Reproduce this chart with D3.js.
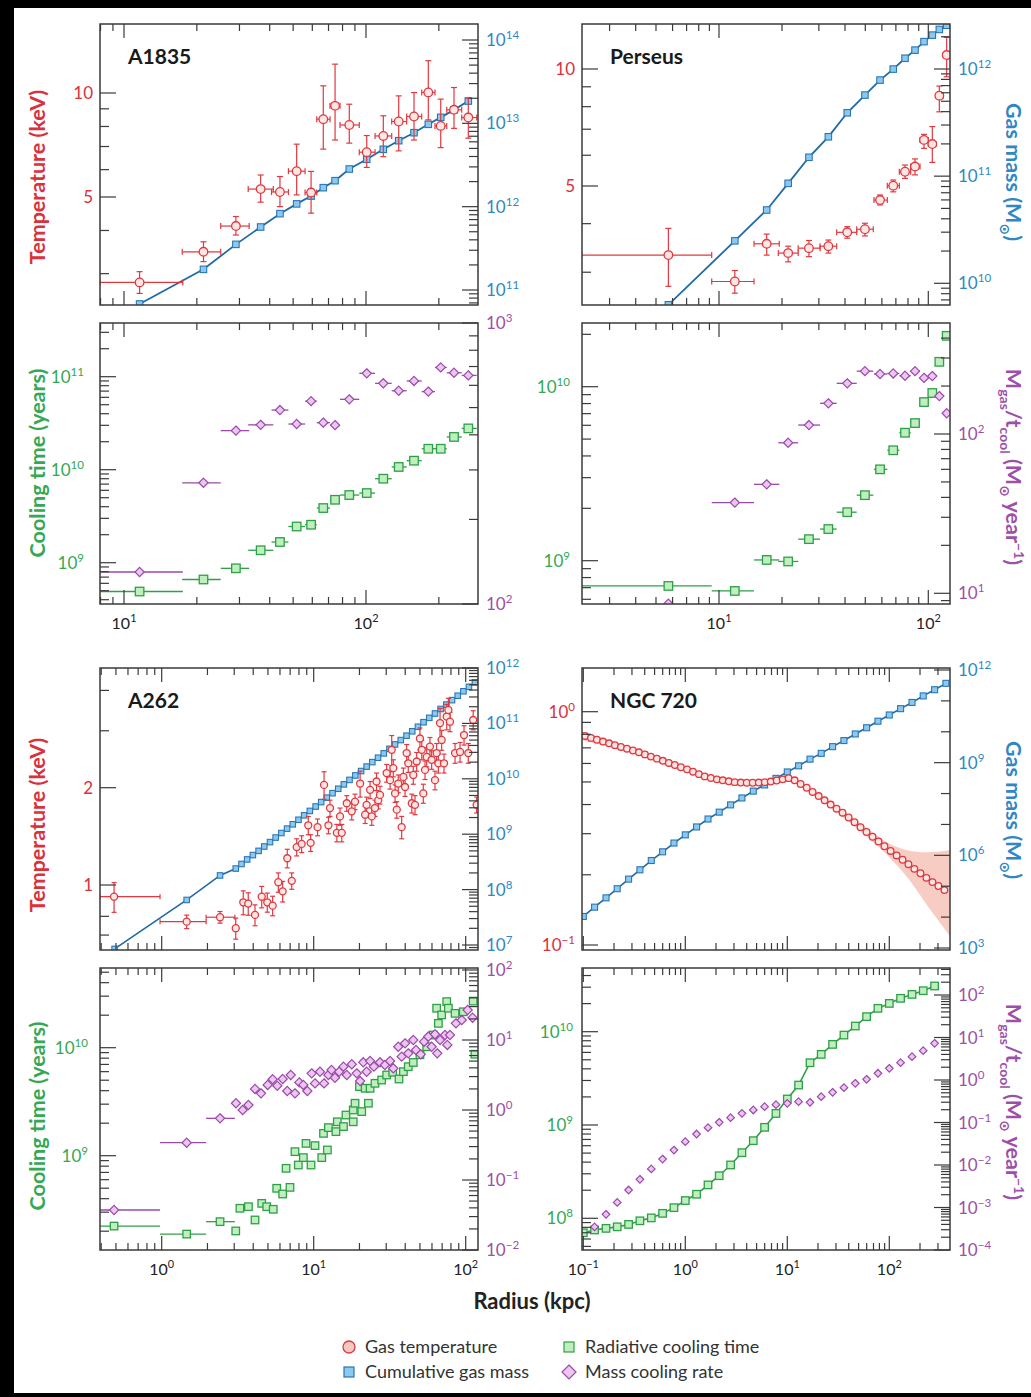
<!DOCTYPE html>
<html><head><meta charset="utf-8">
<script src="https://cdnjs.cloudflare.com/ajax/libs/d3/7.8.5/d3.min.js"></script>
<style>html,body{margin:0;padding:0;background:#000}svg{display:block}</style>
</head><body>
<svg id="chart" width="1031" height="1397"></svg>
<script>
// ================= DATA =================
// ---- A1835 ----
const a1835_r    = [11.6, 21.3, 29.0, 36.7, 44.1, 51.7, 59.3, 66.6, 74.5, 85.3, 100.7, 117.9, 136.5, 157.9, 180.9, 203.6, 231.0, 264.7];
const a1835_rLo  = [7.96, 17.4, 25.1, 32.6, 40.7, 47.8, 56.0, 62.6, 71.0, 78.1, 93.8, 109, 127.7, 147.3, 169.9, 192.8, 215.6, 248.6];
const a1835_rHi  = [17.5, 25.1, 32.9, 41.4, 47.8, 56.0, 62.6, 71.0, 78.1, 93.8, 109, 127.7, 147.3, 169.9, 192.8, 215.6, 248.6, 286.7];
const a1835_T    = [2.83, 3.47, 4.12, 5.27, 5.17, 5.94, 5.15, 8.40, 9.18, 8.08, 6.74, 7.51, 8.27, 8.55, 10.04, 8.03, 8.94, 8.49];
const a1835_TLo  = [2.63, 3.25, 3.88, 4.83, 4.69, 5.07, 4.49, 6.88, 7.31, 7.16, 6.09, 6.54, 6.80, 7.31, 8.36, 6.95, 7.90, 7.40];
const a1835_THi  = [3.04, 3.71, 4.39, 5.79, 5.73, 7.11, 5.93, 10.49, 12.12, 9.28, 7.53, 8.59, 9.81, 10.03, 12.40, 9.60, 10.37, 9.66];
const a1835_mass = [6.8e10, 1.77e11, 3.53e11, 5.70e11, 8.24e11, 1.08e12, 1.34e12, 1.69e12, 2.05e12, 2.83e12, 3.70e12, 4.88e12, 6.19e12, 7.72e12, 9.73e12, 1.18e13, 1.45e13, 1.85e13];
const a1835_tcool= [4.9e8, 6.6e8, 8.7e8, 1.36e9, 1.67e9, 2.45e9, 2.56e9, 3.87e9, 4.75e9, 5.34e9, 5.61e9, 8.0e9, 1.07e10, 1.25e10, 1.68e10, 1.68e10, 2.25e10, 2.78e10];
const a1835_mdot = [130, 270, 414, 434, 490, 437, 527, 442, 433, 535, 662, 610, 574, 622, 570, 695, 665, 651];

// ---- Perseus ----
const per_r    = [5.73, 11.9, 16.9, 21.4, 26.9, 33.3, 41.0, 49.8, 58.8, 68.0, 77.4, 86.4, 95.4, 104.5, 112.9, 122.4];
const per_rLo  = [2.21, 9.23, 14.7, 19.2, 23.9, 30.4, 36.5, 45.5, 55.0, 63.7, 72.7, 82.4, 91.3, 100, 108.8, 117.9];
const per_rHi  = [9.23, 14.7, 19.4, 23.9, 30.4, 36.5, 45.5, 54.6, 63.7, 72.7, 82.4, 91.3, 100, 108.8, 117.9, 127];
const per_T    = [3.32, 2.84, 3.55, 3.36, 3.46, 3.50, 3.80, 3.87, 4.60, 5.01, 5.44, 5.61, 6.57, 6.41, 8.54, 10.86];
const per_TLo  = [2.76, 2.65, 3.32, 3.19, 3.29, 3.36, 3.67, 3.72, 4.47, 4.83, 5.23, 5.34, 6.25, 5.75, 7.76, 9.55];
const per_THi  = [3.89, 3.03, 3.76, 3.50, 3.62, 3.63, 3.93, 4.01, 4.74, 5.18, 5.66, 5.87, 6.79, 7.11, 9.04, 12.06];
const per_mass = [6.3e9, 2.49e10, 4.83e10, 8.57e10, 1.50e11, 2.33e11, 3.90e11, 5.71e11, 7.88e11, 9.98e11, 1.26e12, 1.50e12, 1.80e12, 2.07e12, 2.34e12, 2.56e12];
const per_tcool= [7.16e8, 6.7e8, 1.01e9, 9.9e8, 1.33e9, 1.52e9, 1.90e9, 2.38e9, 3.35e9, 4.31e9, 5.44e9, 6.18e9, 8.16e9, 9.2e9, 1.39e10, 1.96e10];
const per_mdot = [8.6, 37.1, 48.3, 88.1, 113.8, 155.8, 208, 248, 238, 240, 232, 248, 225, 231, 173, 135];

// ---- A262 ----
const a262_r   = [0.486,1.46,2.42,3.07,3.44,3.71,4.11,4.55,4.95,5.37,5.85,6.25,6.70,7.17,7.73,8.33,9.21,9.55,10.6,11.7,12.5,12.8,14.2,14.9,15.3,16.5,17.8,18.7,20.2,21.8,22.3,23.5,24.1,25.3,25.9,26.6,27.3,30.2,31.8,32.6,33.4,34.3,35.2,36.0,37.9,38.9,39.9,40.9,41.9,44.2,45.2,46.4,47.6,50.0,51.4,52.6,54.0,55.4,58.2,59.7,62.8,64.4,66.1,67.8,69.5,72.0,75.0,76.9,78.8,85.1,91.8,97.5,104,112,118];
const a262_T   = [0.92,0.77,0.795,0.735,0.884,0.876,0.808,0.920,0.884,0.863,1.02,0.956,1.21,1.03,1.31,1.34,1.53,1.35,1.51,2.04,1.53,1.73,1.45,1.63,1.45,1.79,1.69,1.81,2.06,1.65,1.77,1.97,1.63,1.73,2.09,1.83,1.90,2.22,2.11,2.62,2.30,1.92,1.71,2.06,1.51,2.16,2.01,2.56,2.38,1.79,2.19,1.77,2.41,2.84,2.62,1.92,2.27,2.49,2.68,2.44,2.11,2.56,2.38,3.17,2.81,2.38,3.32,3.48,3.20,2.56,2.58,2.91,2.56,3.24,1.77];
const a262_TErr= [0.097,0.037,0.033,0.055,0.075,0.07,0.06,0.07,0.06,0.06,0.07,0.07,0.08,0.06,0.08,0.08,0.1,0.08,0.09,0.2,0.09,0.1,0.09,0.1,0.09,0.1,0.1,0.1,0.19,0.1,0.1,0.12,0.1,0.1,0.13,0.11,0.12,0.14,0.13,0.28,0.14,0.12,0.1,0.13,0.12,0.14,0.13,0.16,0.15,0.12,0.14,0.12,0.16,0.22,0.18,0.13,0.15,0.17,0.18,0.16,0.14,0.18,0.16,0.35,0.2,0.16,0.3,0.3,0.22,0.18,0.18,0.2,0.18,0.22,0.1];
const a262_binLo = [0.393, 0.975, 1.96];
const a262_binHi = [0.975, 1.96, 3.03];
const a262_massR = [0.49,1.46,2.42,3.07,3.35,3.65,3.98,4.34,4.73,5.16,5.62,6.13,6.68,7.28,7.94,8.65,9.43,10.3,11.2,12.2,13.3,14.5,15.8,17.2,18.8,20.5,22.3,24.3,26.5,28.9,31.5,34.3,37.4,40.8,44.5,48.5,52.8,57.6,62.8,68.4,74.6,81.3,88.6,96.6,105,115];
const a262_mass  = [8.5e6,6.5e7,1.8e8,2.4e8,2.9e8,3.5e8,4.2e8,5.0e8,6.0e8,7.2e8,8.7e8,1.05e9,1.26e9,1.51e9,1.82e9,2.19e9,2.63e9,3.16e9,3.80e9,4.57e9,5.50e9,6.61e9,7.94e9,9.55e9,1.15e10,1.38e10,1.66e10,2.0e10,2.4e10,2.88e10,3.47e10,4.17e10,5.0e10,6.0e10,7.2e10,8.7e10,1.05e11,1.26e11,1.51e11,1.82e11,2.19e11,2.63e11,3.16e11,3.80e11,4.57e11,5.50e11];
const a262_tcR = [0.486,1.46,2.42,3.07,3.27,3.72,4.11,4.55,4.91,5.42,5.71,6.25,6.58,6.98,7.53,7.92,8.55,8.9,9.6,10.2,11.3,11.6,12.3,12.5,14.0,14.3,15.7,16.3,18.2,18.2,18.7,20.0,20.7,21.8,22.9,23.5,25.3,28.0,30.2,33.1,36.4,38.9,41.9,45.2,50.0,55.4,61.2,64.4,66.1,69.5,75.0,76.9,85.1,96.4,112,115];
const a262_tc  = [2.23e8,1.88e8,2.45e8,2.01e8,3.26e8,3.37e8,2.54e8,3.62e8,3.37e8,3.19e8,4.99e8,4.42e8,7.64e8,5.09e8,1.09e9,8.2e8,9.6e8,1.30e9,8.2e8,1.24e9,9.6e8,1.61e9,1.13e9,1.82e9,1.67e9,2.06e9,1.86e9,2.38e9,2.06e9,2.65e9,3.06e9,4.36e9,2.56e9,4.21e9,3.06e9,4.21e9,4.68e9,5.02e9,5.59e9,5.92e9,5.13e9,6.0e9,6.67e9,7.3e9,8.6e9,1.02e10,1.31e10,2.32e10,1.68e10,2.01e10,2.67e10,2.32e10,2.08e10,2.15e10,2.70e10,8.7e9];
const a262_mdR = [0.486,1.46,2.42,3.08,3.41,3.72,4.11,4.50,4.98,5.37,5.76,6.25,6.70,7.06,7.53,8.04,8.55,9.08,9.7,10.2,11.0,11.7,12.5,13.1,13.8,14.7,15.7,16.5,17.8,19.2,20.2,21.2,22.3,23.5,24.9,27.3,29.4,31.8,33.4,36.0,37.9,39.9,41.9,45.2,47.1,50.6,53.2,56.8,59.7,62.8,65.0,67.8,73.1,75.7,78.8,86.3,94.2,103,111];
const a262_md  = [0.0373,0.341,0.76,1.25,1.0,1.18,2.0,1.73,2.28,2.75,2.22,2.77,1.87,3.16,1.73,2.48,2.28,1.87,3.34,2.40,3.52,2.40,3.16,3.73,2.89,3.52,4.16,3.16,4.5,3.34,2.59,4.80,3.52,5.01,4.16,4.80,4.39,5.01,3.94,8.0,5.78,8.96,6.45,10,7.2,6.24,9.46,11.2,8.0,12.1,6.45,10,11.8,8.5,11.8,17.3,19.3,26.8,20.8];

// ---- NGC 720 ----
const ngc_TR = [0.104,0.119,0.136,0.156,0.179,0.204,0.234,0.268,0.307,0.351,0.402,0.460,0.527,0.603,0.690,0.790,0.905,1.04,1.19,1.36,1.55,1.78,2.04,2.33,2.67,3.05,3.50,4.00,4.58,5.25,6.01,6.88,7.87,9.01,10.3,11.8,13.5,15.5,17.7,20.3,23.2,26.6,30.4,34.8,39.9,45.6,52.2,59.8,68.5,78.4,89.7,103,118,135,154,176,202,231,265,303,347];
const ngc_T  = [0.787,0.772,0.758,0.745,0.732,0.719,0.706,0.694,0.682,0.670,0.656,0.642,0.629,0.616,0.603,0.591,0.578,0.566,0.553,0.540,0.528,0.520,0.513,0.508,0.503,0.499,0.497,0.496,0.496,0.497,0.499,0.502,0.507,0.513,0.519,0.508,0.490,0.472,0.453,0.435,0.417,0.400,0.384,0.369,0.352,0.336,0.320,0.305,0.291,0.278,0.265,0.253,0.242,0.232,0.222,0.212,0.203,0.194,0.186,0.179,0.172];
const ngc_bandR  = [0.097, 0.3, 1, 3, 6, 10, 15, 30, 60, 100, 150, 230, 394];
const ngc_bandLo = [0.755, 0.665, 0.555, 0.488, 0.488, 0.508, 0.466, 0.374, 0.292, 0.238, 0.195, 0.15, 0.109];
const ngc_bandHi = [0.82, 0.70, 0.58, 0.51, 0.51, 0.532, 0.482, 0.394, 0.318, 0.272, 0.255, 0.25, 0.255];
const ngc_mR = [0.1,0.129,0.167,0.215,0.278,0.359,0.464,0.599,0.774,1.0,1.29,1.67,2.15,2.78,3.59,4.64,5.99,7.74,10.0,12.9,16.7,21.5,27.8,35.9,46.4,59.9,77.4,100,129,167,215,278,359];
const ngc_m  = [1.05e4,2.1e4,4.2e4,8.3e4,1.7e5,3.4e5,6.8e5,1.3e6,2.5e6,4.6e6,8.3e6,1.5e7,2.5e7,4.3e7,7.2e7,1.2e8,1.9e8,3.1e8,5.0e8,7.9e8,1.3e9,2.0e9,3.3e9,5.2e9,8.5e9,1.35e10,2.2e10,3.5e10,5.6e10,8.9e10,1.45e11,2.3e11,3.7e11];
const ngc_tcR = [0.1,0.129,0.167,0.215,0.278,0.359,0.464,0.599,0.774,1.0,1.29,1.67,2.15,2.78,3.59,4.64,5.99,7.74,10.0,12.9,16.7,21.5,27.8,35.9,46.4,59.9,77.4,100,129,167,215,278];
const ngc_tc  = [7.0e7,7.5e7,7.8e7,8.1e7,8.6e7,9.4e7,1.01e8,1.13e8,1.30e8,1.55e8,1.81e8,2.28e8,2.86e8,3.73e8,5.05e8,6.79e8,9.44e8,1.33e9,1.90e9,2.68e9,4.65e9,5.71e9,7.31e9,9.2e9,1.15e10,1.45e10,1.78e10,2.01e10,2.28e10,2.51e10,2.75e10,3.09e10];
const ngc_mdR = [0.129,0.167,0.215,0.278,0.359,0.464,0.599,0.774,1.0,1.29,1.67,2.15,2.78,3.59,4.64,5.99,7.74,10.0,12.9,16.7,21.5,27.8,35.9,46.4,59.9,77.4,100,129,167,215,278];
const ngc_md  = [3.5e-4,6.9e-4,1.32e-3,2.58e-3,4.6e-3,8.1e-3,1.38e-2,2.25e-2,3.54e-2,5.36e-2,7.55e-2,0.101,0.130,0.164,0.197,0.236,0.263,0.282,0.309,0.299,0.406,0.513,0.661,0.836,1.04,1.44,1.88,2.56,3.54,4.90,7.29];

const panelNames   = ['A1835', 'Perseus', 'A262', 'NGC 720'];
const legendLabels = ['Gas temperature', 'Cumulative gas mass', 'Radiative cooling time', 'Mass cooling rate'];

// ================= DRAWING =================
const FONT = "Lato, 'Open Sans', 'DejaVu Sans', sans-serif";
const C = {
  red:'#e0383f', redFill:'#fde6e4', redText:'#d8323b', redBand:'#f6c3b8',
  blue:'#1f6aa5', blueFill:'#8cc9ef', blueStroke:'#2a76b3', blueText:'#2f87c4',
  green:'#2f9f48', greenFill:'#bfeebf', greenText:'#34a853',
  purple:'#9a4aa8', purpleFill:'#ecc6f1', purpleText:'#9c50a7',
  frame:'#3a3a3a'
};
const svg = d3.select('#chart');
const defs = svg.append('defs');
svg.append('rect').attr('width',1031).attr('height',1397).attr('fill','#000');
svg.append('rect').attr('x',14).attr('y',8).attr('width',1017).attr('height',1385).attr('fill','#fff');

function logScale(v1,p1,v2,p2,pa,pb){
  const s = d3.scaleLog().domain([v1,v2]).range([p1,p2]);
  return d3.scaleLog().domain([s.invert(pa), s.invert(pb)]).range([pa,pb]);
}
function logTicks(s){
  const d = s.domain(); const lo = Math.min(d[0],d[1]), hi = Math.max(d[0],d[1]);
  const out = [];
  for(let e=Math.floor(Math.log10(lo))-1; e<=Math.ceil(Math.log10(hi)); e++)
    for(let k=1;k<=9;k++){ const v = k*Math.pow(10,e); if(v>=lo*0.9999 && v<=hi*1.0001) out.push(v); }
  return out;
}
function isDecade(v){ const l=Math.log10(v); return Math.abs(l-Math.round(l))<1e-6; }
function seg(g,x1,y1,x2,y2,color,w){
  g.append('line').attr('x1',x1).attr('y1',y1).attr('x2',x2).attr('y2',y2).attr('stroke',color).attr('stroke-width',w||1.2);
}
function addLabel(g,x,y,anchor,base,exp,color,size){
  const fs = size||17;
  const t = g.append('text').attr('x',x).attr('y',y).attr('text-anchor',anchor).attr('fill',color)
    .attr('font-size',fs).attr('font-family',FONT);
  t.append('tspan').text(base);
  if(exp!=null) t.append('tspan').attr('dy',-7).attr('font-size',fs*0.68).text(exp);
}
function circleM(g,x,y,r){ g.append('circle').attr('cx',x).attr('cy',y).attr('r',r).attr('fill',C.redFill).attr('stroke',C.red).attr('stroke-width',1.3); }
function squareM(g,x,y,s,fill,stroke,sw){ g.append('rect').attr('x',x-s/2).attr('y',y-s/2).attr('width',s).attr('height',s).attr('fill',fill).attr('stroke',stroke).attr('stroke-width',sw||1.2); }
function diamondM(g,x,y,s){ g.append('path').attr('d',`M${x},${y-s}L${x+s},${y}L${x},${y+s}L${x-s},${y}Z`).attr('fill',C.purpleFill).attr('stroke',C.purple).attr('stroke-width',1.2); }

function massLine(g,xs,ys,R,M,s,lw){
  g.append('path').attr('d', d3.line()(R.map((r,i)=>[xs(r), ys(M[i])])))
    .attr('fill','none').attr('stroke',C.blue).attr('stroke-width',lw||1.8);
  R.forEach((r,i)=>squareM(g,xs(r),ys(M[i]),s,C.blueFill,C.blueStroke,1.1));
}
function tempPts(g,xs,ys,R,T,TLo,THi,RLo,RHi,rad,cap){
  const c = cap||3;
  R.forEach((r,i)=>{
    const x=xs(r), y=ys(T[i]);
    if(TLo && TLo[i]!=null){
      const a=ys(TLo[i]), b=ys(THi[i]);
      seg(g,x,a,x,b,C.red,1.2); seg(g,x-c,a,x+c,a,C.red,1.2); seg(g,x-c,b,x+c,b,C.red,1.2);
    }
    if(RLo && RLo[i]!=null){
      const a=xs(RLo[i]), b=xs(RHi[i]);
      seg(g,a,y,b,y,C.red,1.2); seg(g,a,y-c,a,y+c,C.red,1.2); seg(g,b,y-c,b,y+c,C.red,1.2);
    }
  });
  R.forEach((r,i)=>circleM(g,xs(r),ys(T[i]),rad));
}
function coolPts(g,xs,ys,R,V,RLo,RHi,kind,s){
  const col = kind==='sq'? C.green : C.purple;
  if(RLo) R.forEach((r,i)=>{ if(RLo[i]!=null) seg(g,xs(RLo[i]),ys(V[i]),xs(RHi[i]),ys(V[i]),col,1.3); });
  R.forEach((r,i)=>{
    if(kind==='sq') squareM(g,xs(r),ys(V[i]),s,C.greenFill,C.green,1.3);
    else diamondM(g,xs(r),ys(V[i]),s);
  });
}

let cpN = 0;
function drawPanel(p){
  const [x0,y0,x1,y1] = p.box;
  const id = 'cp'+(++cpN);
  defs.append('clipPath').attr('id',id).append('rect').attr('x',x0).attr('y',y0).attr('width',x1-x0).attr('height',y1-y0);
  const dg = svg.append('g').attr('clip-path',`url(#${id})`);
  p.draw(dg);
  const g = svg.append('g');
  logTicks(p.xs).forEach(v=>{
    const x=p.xs(v); const L=isDecade(v)?14:7;
    seg(g,x,y1,x,y1-L,C.frame,1.2); seg(g,x,y0,x,y0+L,C.frame,1.2);
  });
  const yt = (s,ticks,major,x,dir)=>{
    (ticks||logTicks(s)).forEach(v=>{
      const y=s(v); const isM = major? major.some(m=>Math.abs(m-v)/m<1e-6) : isDecade(v);
      const L = isM?16:9;
      seg(g,x,y,x+dir*L,y,C.frame,1.2);
    });
  };
  yt(p.yl,p.ylTicks,p.ylMajor,x0,1);
  yt(p.yr,p.yrTicks,p.yrMajor,x1,-1);
  g.append('rect').attr('x',x0).attr('y',y0).attr('width',x1-x0).attr('height',y1-y0)
    .attr('fill','none').attr('stroke',C.frame).attr('stroke-width',1.5);
  const lg = p.ylGap||7;
  (p.ylLab||[]).forEach(([v,b,e])=>addLabel(g,x0-lg,p.yl(v)+6,'end',b,e,p.ylColor));
  (p.yrLab||[]).forEach(([v,b,e])=>addLabel(g,x1+8,p.yr(v)+6,'start',b,e,p.yrColor));
  (p.xLab||[]).forEach(([v,b,e])=>addLabel(g,p.xs(v),y1+25,'middle',b,e,'#222',16));
  if(p.name) g.append('text').attr('x',x0+28).attr('y',y0+40).attr('font-size',21).attr('font-weight',700)
      .attr('font-family',FONT).attr('fill','#1a1a1a').text(p.name);
}

// ---------- scales ----------
const xA  = logScale(10,124,100,366,100,478);
const xP  = logScale(10,719,100,928.3,582,950);
const x2  = logScale(1,161.7,10,313.7,100,478);
const xN  = logScale(0.1,583.3,100,889.3,582,950);

const tA  = logScale(10,93,5,197,305,24),        mA  = logScale(1e14,40,1e11,290,305,24);
const tcA = logScale(1e11,376.7,1e9,562.7,604,323), mdA = logScale(1e3,323,1e2,604,604,323);
const tP  = logScale(10,69,5,186,305,24),        mP  = logScale(1e12,69,1e10,283.3,305,24);
const tcP = logScale(1e10,386.7,1e9,560.7,604,323), mdP = logScale(1e2,434,1e1,593.3,604,323);
const t2  = logScale(2,787.7,1,885,950,668),     m2  = logScale(1e12,668,1e7,945,950,668);
const tc2 = logScale(1e10,1047.7,1e9,1155.7,1250,968), md2 = logScale(1e1,1040,1e-1,1180,1250,968);
const tN  = logScale(1,711.7,0.1,945,950,668),   mN  = logScale(1e12,670,1e3,948,950,668);
const tcN = logScale(1e10,1031.7,1e8,1218.3,1250,968), mdN = logScale(1e2,995,1e-4,1250,1250,968);

// ---------- A1835 ----------
drawPanel({box:[100,24,478,305], xs:xA, yl:tA, yr:mA,
  ylTicks:[3,4,5,6,7,8,9,10], ylMajor:[5,10],
  ylLab:[[10,'10'],[5,'5']], ylColor:C.redText,
  yrLab:[[1e14,'10','14'],[1e13,'10','13'],[1e12,'10','12'],[1e11,'10','11']], yrColor:C.blueText,
  name:panelNames[0],
  draw:g=>{ massLine(g,xA,mA,a1835_r,a1835_mass,6.5);
    tempPts(g,xA,tA,a1835_r,a1835_T,a1835_TLo,a1835_THi,a1835_rLo,a1835_rHi,4.3,3); }
});
drawPanel({box:[100,323,478,604], xs:xA, yl:tcA, yr:mdA, ylGap:16,
  ylLab:[[1e11,'10','11'],[1e10,'10','10'],[1e9,'10','9']], ylColor:C.greenText,
  yrLab:[[1e3,'10','3'],[1e2,'10','2']], yrColor:C.purpleText,
  xLab:[[10,'10','1'],[100,'10','2']],
  draw:g=>{ coolPts(g,xA,tcA,a1835_r,a1835_tcool,a1835_rLo,a1835_rHi,'sq',8.5);
    coolPts(g,xA,mdA,a1835_r,a1835_mdot,a1835_rLo,a1835_rHi,'dia',4.6); }
});
// ---------- Perseus ----------
drawPanel({box:[582,24,950,305], xs:xP, yl:tP, yr:mP,
  ylTicks:[3,4,5,6,7,8,9,10], ylMajor:[5,10],
  ylLab:[[10,'10'],[5,'5']], ylColor:C.redText,
  yrLab:[[1e12,'10','12'],[1e11,'10','11'],[1e10,'10','10']], yrColor:C.blueText,
  name:panelNames[1],
  draw:g=>{ massLine(g,xP,mP,per_r,per_mass,6.5);
    tempPts(g,xP,tP,per_r,per_T,per_TLo,per_THi,per_rLo,per_rHi,4.3,3); }
});
drawPanel({box:[582,323,950,604], xs:xP, yl:tcP, yr:mdP, ylGap:12,
  ylLab:[[1e10,'10','10'],[1e9,'10','9']], ylColor:C.greenText,
  yrLab:[[1e2,'10','2'],[1e1,'10','1']], yrColor:C.purpleText,
  xLab:[[10,'10','1'],[100,'10','2']],
  draw:g=>{ coolPts(g,xP,tcP,per_r,per_tcool,per_rLo,per_rHi,'sq',8.5);
    coolPts(g,xP,mdP,per_r,per_mdot,per_rLo.map((v,i)=>i===0?null:v),per_rHi,'dia',4.6); }
});
// ---------- A262 ----------
drawPanel({box:[100,668,478,950], xs:x2, yl:t2, yr:m2,
  ylTicks:[0.7,0.8,1,2,3,4], ylMajor:[1,2],
  ylLab:[[2,'2'],[1,'1']], ylColor:C.redText,
  yrLab:[[1e12,'10','12'],[1e11,'10','11'],[1e10,'10','10'],[1e9,'10','9'],[1e8,'10','8'],[1e7,'10','7']], yrColor:C.blueText,
  name:panelNames[2],
  draw:g=>{ massLine(g,x2,m2,a262_massR,a262_mass,5.5,1.6);
    tempPts(g,x2,t2,a262_r,a262_T,a262_T.map((t,i)=>t-a262_TErr[i]),a262_T.map((t,i)=>t+a262_TErr[i]),
      a262_r.map((r,i)=>i<3?a262_binLo[i]:null),a262_r.map((r,i)=>i<3?a262_binHi[i]:null),3.5,2.5); }
});
drawPanel({box:[100,968,478,1250], xs:x2, yl:tc2, yr:md2, ylGap:12,
  ylLab:[[1e10,'10','10'],[1e9,'10','9']], ylColor:C.greenText,
  yrLab:[[1e2,'10','2'],[1e1,'10','1'],[1e0,'10','0'],[1e-1,'10','\u22121'],[1e-2,'10','\u22122']], yrColor:C.purpleText,
  xLab:[[1,'10','0'],[10,'10','1'],[100,'10','2']],
  draw:g=>{
    const lo = a262_tcR.map((r,i)=>i<3?a262_binLo[i]:null), hi = a262_tcR.map((r,i)=>i<3?a262_binHi[i]:null);
    coolPts(g,x2,tc2,a262_tcR,a262_tc,lo,hi,'sq',7.5);
    const lo2 = a262_mdR.map((r,i)=>i<3?a262_binLo[i]:null), hi2 = a262_mdR.map((r,i)=>i<3?a262_binHi[i]:null);
    coolPts(g,x2,md2,a262_mdR,a262_md,lo2,hi2,'dia',4.6); }
});
// ---------- NGC 720 ----------
drawPanel({box:[582,668,950,950], xs:xN, yl:tN, yr:mN,
  yrTicks:[1e3,1e4,1e5,1e6,1e7,1e8,1e9,1e10,1e11,1e12], yrMajor:[1e3,1e6,1e9,1e12],
  ylLab:[[1,'10','0'],[0.1,'10','\u22121']], ylColor:C.redText,
  yrLab:[[1e12,'10','12'],[1e9,'10','9'],[1e6,'10','6'],[1e3,'10','3']], yrColor:C.blueText,
  name:panelNames[3],
  draw:g=>{
    g.append('path').datum(ngc_bandR.map((r,i)=>i))
      .attr('d', d3.area().curve(d3.curveMonotoneX).x(i=>xN(ngc_bandR[i])).y0(i=>tN(ngc_bandLo[i])).y1(i=>tN(ngc_bandHi[i])))
      .attr('fill',C.redBand).attr('opacity',0.85);
    massLine(g,xN,mN,ngc_mR,ngc_m,6,1.6);
    ngc_TR.forEach((r,i)=>circleM(g,xN(r),tN(ngc_T[i]),3.3)); }
});
drawPanel({box:[582,968,950,1250], xs:xN, yl:tcN, yr:mdN, ylGap:9,
  ylLab:[[1e10,'10','10'],[1e9,'10','9'],[1e8,'10','8']], ylColor:C.greenText,
  yrLab:[[1e2,'10','2'],[1e1,'10','1'],[1e0,'10','0'],[1e-1,'10','\u22121'],[1e-2,'10','\u22122'],[1e-3,'10','\u22123'],[1e-4,'10','\u22124']], yrColor:C.purpleText,
  xLab:[[0.1,'10','\u22121'],[1,'10','0'],[10,'10','1'],[100,'10','2']],
  draw:g=>{
    g.append('path').attr('d', d3.line()(ngc_tcR.map((r,i)=>[xN(r), tcN(ngc_tc[i])])))
      .attr('fill','none').attr('stroke',C.green).attr('stroke-width',1.6);
    coolPts(g,xN,tcN,ngc_tcR,ngc_tc,null,null,'sq',7.5);
    coolPts(g,xN,mdN,ngc_mdR,ngc_md,null,null,'dia',3.8); }
});

// ---------- axis titles ----------
function vTitle(x,y,rot,color,parts){
  const t = svg.append('text').attr('transform',`translate(${x},${y}) rotate(${rot})`)
    .attr('text-anchor','middle').attr('dy','0.35em').attr('fill',color)
    .attr('font-size',21.5).attr('font-weight',700).attr('font-family',FONT);
  let shift = 0;
  parts.forEach(([txt,kind])=>{
    const ts = t.append('tspan').text(txt);
    let target = kind==='sub'?6:(kind==='sup'?-8:0);
    if(target!==shift){ ts.attr('dy',target-shift); shift=target; }
    if(kind) ts.attr('font-size',14);
  });
}
vTitle(37,177,-90,C.redText,[['Temperature (keV)']]);
vTitle(37,825,-90,C.redText,[['Temperature (keV)']]);
vTitle(37,463,-90,C.greenText,[['Cooling time (years)']]);
vTitle(37,1116,-90,C.greenText,[['Cooling time (years)']]);
vTitle(1014,172,90,C.blueText,[['Gas mass (M'],['\u2299','sub'],[')']]);
vTitle(1014,810,90,C.blueText,[['Gas mass (M'],['\u2299','sub'],[')']]);
const mdotTitle = [['M'],['gas','sub'],['/t'],['cool','sub'],[' (M'],['\u2299','sub'],[' year'],['\u22121','sup'],[')']];
vTitle(1014,467,90,C.purpleText,mdotTitle);
vTitle(1014,1102,90,C.purpleText,mdotTitle);

svg.append('text').attr('x',532).attr('y',1309).attr('text-anchor','middle').attr('font-size',22)
  .attr('font-weight',700).attr('font-family',FONT).attr('fill','#222').text('Radius (kpc)');

// ---------- legend ----------
const lg = svg.append('g').attr('font-family',FONT).attr('font-size',18).attr('fill','#333');
const lx = [345, 565], ly = [1347, 1372];
lg.append('circle').attr('cx',lx[0]+4).attr('cy',ly[0]).attr('r',6).attr('fill','#f7c7c2').attr('stroke',C.red).attr('stroke-width',1.3);
squareM(lg,lx[0]+4,ly[1],10,C.blueFill,C.blueStroke,1.2);
squareM(lg,lx[1]+4,ly[0],10,C.greenFill,C.green,1.2);
lg.append('path').attr('d',`M${lx[1]+4},${ly[1]-7}L${lx[1]+11},${ly[1]}L${lx[1]+4},${ly[1]+7}L${lx[1]-3},${ly[1]}Z`)
  .attr('fill',C.purpleFill).attr('stroke',C.purple).attr('stroke-width',1.2);
[[0,0],[0,1],[1,0],[1,1]].forEach(([c,r])=>{
  lg.append('text').attr('x',lx[c]+20).attr('y',ly[r]+6).text(legendLabels[c*2+r]);
});
</script>
</body></html>
